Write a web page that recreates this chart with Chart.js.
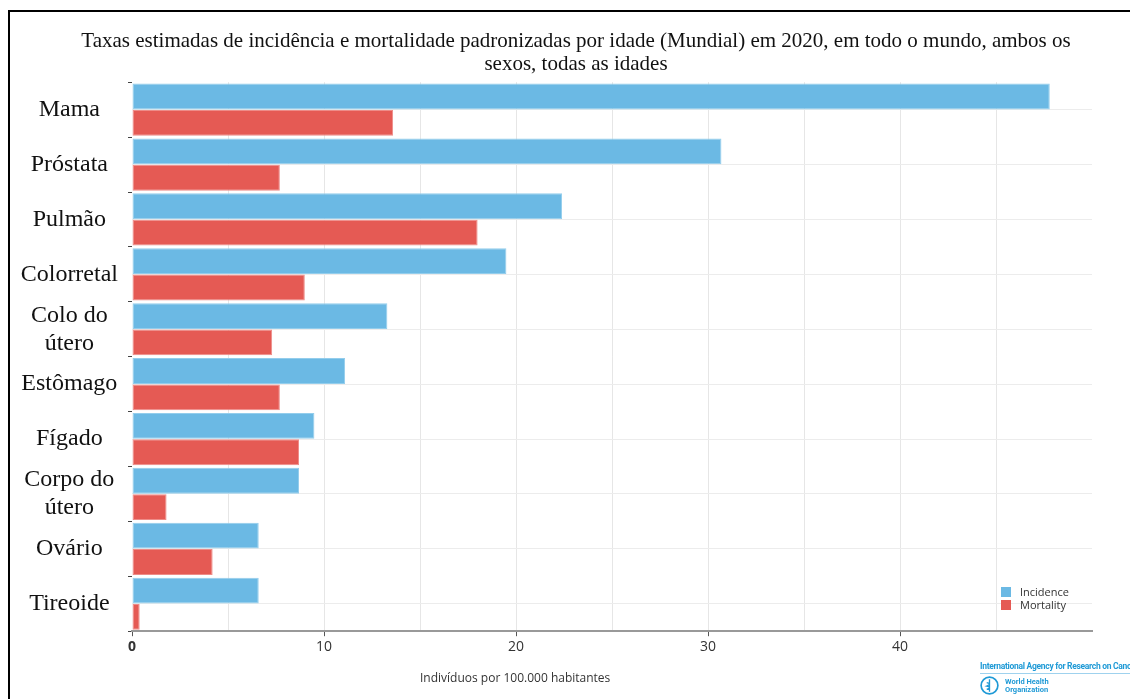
<!DOCTYPE html>
<html lang="pt">
<head>
<meta charset="utf-8">
<title>Taxas estimadas de incidência e mortalidade 2020</title>
<script src="https://cdn.jsdelivr.net/npm/chart.js@4.4.1/dist/chart.umd.min.js"></script>
<style>
    body { margin: 0; width: 1130px; height: 699px; overflow: hidden; background: #fff; position: relative; font-family: "Open Sans", sans-serif; }
    #frame { position: absolute; left: 8px; top: 10px; width: 1200px; height: 800px; border: 2px solid #000; }
    #wrap { position: absolute; left: 10px; top: 12px; width: 1120px; height: 687px; }
    #axis-title { position: absolute; left: 420px; top: 669px; font-size: 12px; color: #333; white-space: nowrap; }
    #legend { position: absolute; left: 1001px; top: 585px; font-size: 11px; color: #333; }
    #legend .item { display: flex; align-items: center; height: 13px; }
    #legend .box { width: 10px; height: 10px; margin-right: 9px; }
    #iarc { position: absolute; left: 980px; top: 661px; width: 180px; font-family: "Roboto", sans-serif; font-weight: bold; color: #1f9ad6; }
    #iarc .agency { font-size: 8.5px; white-space: nowrap; letter-spacing: -0.3px; padding-bottom: 2px; border-bottom: 1px solid #9fd2ee; }
    #iarc .who { display: flex; align-items: center; margin-top: 2px; font-size: 7.5px; line-height: 8px; }
    #iarc svg { margin-right: 6px; }
</style>
</head>
<body>
<div id="frame"></div>
<div id="wrap"><canvas id="ratesChart"></canvas></div>
<div id="axis-title">Indivíduos por 100.000 habitantes</div>
<div id="legend"></div>
<div id="iarc">
    <div class="agency">International Agency for Research on Cancer</div>
    <div class="who">
        <svg width="19" height="19" viewBox="0 0 17 17">
            <circle cx="8.5" cy="8.5" r="7.5" fill="none" stroke="#1f9ad6" stroke-width="1.5"/>
            <path d="M8.5 3 V14 M6 6 Q11 7 6 9 Q11 10 6 12" fill="none" stroke="#1f9ad6" stroke-width="1.2"/>
        </svg>
        <div>World Health<br>Organization</div>
    </div>
</div>
<script>
// Taxas padronizadas por idade (Mundial), por 100.000 habitantes
const cancers = ["Mama", "Próstata", "Pulmão", "Colorretal", ["Colo do", "útero"], "Estômago", "Fígado", ["Corpo do", "útero"], "Ovário", "Tireoide"];
const incidence = [47.8, 30.7, 22.4, 19.5, 13.3, 11.1, 9.5, 8.7, 6.6, 6.6];
const mortality = [13.6, 7.7, 18.0, 9.0, 7.3, 7.7, 8.7, 1.8, 4.2, 0.4];
const xTicks = [0, 10, 20, 30, 40];

const titleLines = [
    "Taxas estimadas de incidência e mortalidade padronizadas por idade (Mundial) em 2020, em todo o mundo, ambos os",
    "sexos, todas as idades"
];

const blue = "#6bb9e4";
const red = "#e55a54";

// the y axis is kept narrow so the title sits further right; let its labels use the padding on the left
const labelRoom = {
    id: 'labelRoom',
    afterLayout(chart) {
        chart.scales.y.left = 0;
    }
};

const ratesChart = new Chart(document.getElementById("ratesChart"), {
    type: 'bar',
    data: {
        labels: cancers,
        datasets: [
            { label: "Incidence", data: incidence, backgroundColor: blue, borderColor: "#93cdec", borderWidth: 1, borderSkipped: false },
            { label: "Mortality", data: mortality, backgroundColor: red, borderColor: "#ee8c88", borderWidth: 1, borderSkipped: false }
        ]
    },
    plugins: [labelRoom],
    options: {
        indexAxis: 'y',
        responsive: true,
        maintainAspectRatio: false,
        animation: false,
        layout: { padding: { left: 50, right: 38, bottom: 42 } },
        datasets: { bar: { categoryPercentage: 0.96, barPercentage: 0.98 } },
        plugins: {
            legend: { display: false },
            tooltip: { enabled: false },
            title: {
                display: true,
                text: titleLines,
                color: "#111",
                font: { family: "Liberation Serif", size: 21, weight: 'normal', lineHeight: 1.1 },
                padding: { top: 18, bottom: 6 }
            }
        },
        scales: {
            x: {
                min: 0,
                max: 50,
                ticks: {
                    stepSize: 5,
                    color: "#333",
                    padding: 2,
                    font: ctx => ({ family: "Open Sans", size: 14, weight: ctx.tick && ctx.tick.value === 0 ? 'bold' : 'normal' }),
                    callback: v => xTicks.includes(v) ? String(v) : ""
                },
                grid: {
                    color: ctx => (ctx.tick && (ctx.tick.value === 0 || ctx.tick.value === 50)) ? "transparent" : "#e6e6e6",
                    tickColor: ctx => (ctx.tick && xTicks.includes(ctx.tick.value)) ? "#555" : "transparent",
                    tickLength: 5
                },
                border: { color: "#999", width: 2 }
            },
            y: {
                weight: 1,
                afterFit: scale => { scale.width = 68; },
                ticks: {
                    autoSkip: false,
                    crossAlign: 'center',
                    padding: 10,
                    color: "#111",
                    font: { family: "Liberation Serif", size: 24, lineHeight: 1.17 }
                },
                grid: { offset: false, drawTicks: false, color: "#ececec" },
                border: { display: false }
            },
            // short marks between the categories, next to the plot edge
            yMarks: {
                type: 'category',
                position: 'left',
                weight: 0,
                offset: true,
                ticks: { display: false },
                grid: { offset: true, drawOnChartArea: false, tickLength: 4, tickColor: "#444" },
                border: { display: false }
            }
        }
    }
});

// legend built from the datasets
const legend = document.getElementById("legend");
ratesChart.data.datasets.forEach(ds => {
    const item = document.createElement("div");
    item.className = "item";
    item.innerHTML = `<span class="box" style="background:${ds.backgroundColor}"></span>${ds.label}`;
    legend.appendChild(item);
});
</script>
</body>
</html>
